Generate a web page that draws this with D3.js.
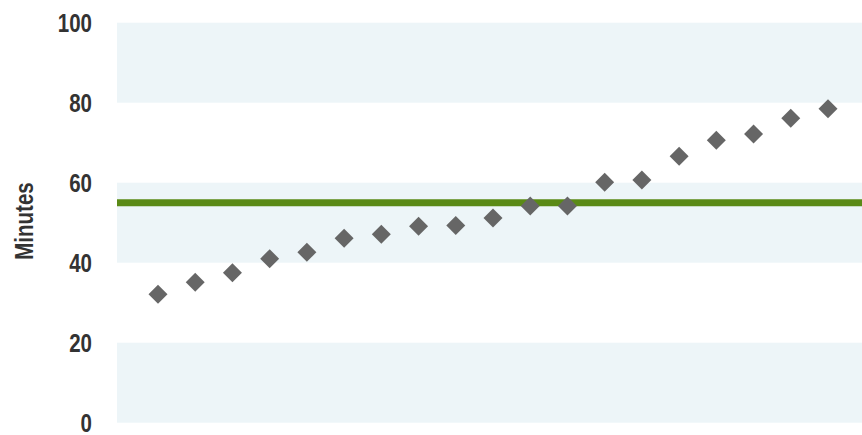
<!DOCTYPE html>
<html>
<head>
<meta charset="utf-8">
<script src="https://cdn.jsdelivr.net/npm/d3@7"></script>
<style>
  body { margin: 0; background: #fff; }
  text { font-family: "Liberation Sans", Arial, sans-serif; }
</style>
</head>
<body>
<div id="chart"></div>
<script>
// data
var categories = d3.range(1, 20);
var minutes = [32.1, 35.1, 37.5, 41.0, 42.6, 46.1, 47.1, 49.1, 49.3, 51.2,
               54.2, 54.2, 60.1, 60.7, 66.6, 70.6, 72.2, 76.1, 78.5];
var target = 55;
var yTicks = [0, 20, 40, 60, 80, 100];
var bands = [[0, 20], [40, 60], [80, 100]];

var width = 862, height = 435;
var margin = {top: 22.7, right: 0, bottom: 12.3, left: 117};
var narrow = 0.82; // squeeze text, no narrow font installed

var svg = d3.select("#chart")
  .append("svg")
    .attr("width", width)
    .attr("height", height);

var y = d3.scaleLinear()
  .domain([0, 100])
  .range([height - margin.bottom, margin.top]);

var x = d3.scalePoint()
  .domain(categories)
  .range([158, 828]);

// shaded bands
svg.append("g")
  .selectAll("rect")
  .data(bands)
  .enter().append("rect")
    .attr("x", margin.left)
    .attr("width", width - margin.left - margin.right)
    .attr("y", function(d) { return y(d[1]); })
    .attr("height", function(d) { return y(d[0]) - y(d[1]); })
    .attr("fill", "#edf5f8");

// y axis, labels only
var yAxis = svg.append("g")
  .attr("transform", "translate(92,0)")
  .call(d3.axisLeft(y).tickValues(yTicks).tickSize(0).tickPadding(0));
yAxis.select(".domain").remove();
yAxis.selectAll("text")
  .attr("fill", "#333")
  .attr("dy", "0.35em")
  .attr("transform", "scale(" + narrow + ",1)")
  .style("font-size", "25px")
  .style("font-weight", "bold");

svg.append("text")
  .attr("transform", "translate(33,221) rotate(-90) scale(" + narrow + ",1)")
  .attr("text-anchor", "middle")
  .attr("fill", "#333")
  .style("font-size", "25px")
  .style("font-weight", "bold")
  .text("Minutes");

// target line
svg.append("line")
  .attr("x1", margin.left)
  .attr("x2", width)
  .attr("y1", y(target))
  .attr("y2", y(target))
  .attr("stroke", "#5a8a16")
  .attr("stroke-width", 7);

// diamonds
svg.append("g")
  .selectAll("path")
  .data(minutes)
  .enter().append("path")
    .attr("d", d3.symbol().type(d3.symbolSquare).size(180))
    .attr("transform", function(d, i) {
      return "translate(" + x(categories[i]) + "," + y(d) + ") rotate(45)";
    })
    .attr("fill", "#666");
</script>
</body>
</html>
